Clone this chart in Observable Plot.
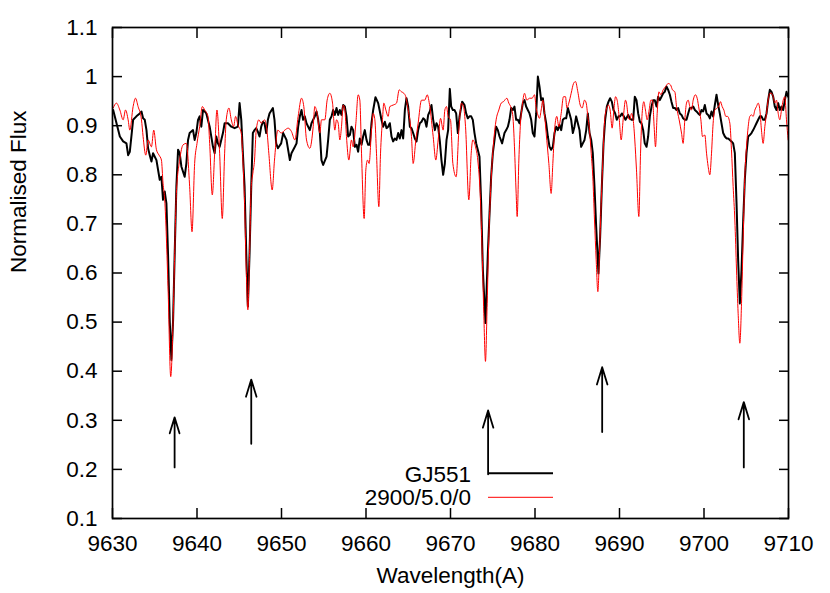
<!DOCTYPE html>
<html>
<head>
<meta charset="utf-8">
<script src="https://cdn.jsdelivr.net/npm/d3@7"></script>
<script src="https://cdn.jsdelivr.net/npm/@observablehq/plot@0.6"></script>
<style>
  html, body { margin: 0; padding: 0; background: #fff; }
  #chart { width: 830px; height: 593px; }
</style>
</head>
<body>
<div id="chart"></div>
<script>
// ---- data ----
const seriesNames = ["GJ551", "2900/5.0/0"];
const seriesColors = ["#000000", "#ff0000"];

const waveGJ551 = [9630.08,9630.87,9631.26,9631.65,9631.85,9632.05,9632.44,9632.83,9633.23,9633.43,9633.62,9633.82,9634.02,9634.21,9634.41,9634.61,9634.80,9635.20,9635.59,9635.79,9635.98,9636.18,9636.38,9636.57,9636.77,9636.97,9637.17,9637.36,9637.56,9637.76,9637.95,9638.15,9638.54,9638.74,9638.94,9639.13,9639.53,9639.72,9639.92,9640.12,9640.31,9640.51,9640.71,9640.91,9641.10,9641.50,9641.89,9642.09,9642.28,9642.48,9642.68,9643.07,9643.27,9643.66,9644.06,9644.45,9644.84,9645.04,9645.24,9645.43,9645.63,9645.83,9646.02,9646.22,9646.42,9646.61,9646.81,9647.01,9647.20,9647.40,9647.60,9647.80,9647.99,9648.19,9648.39,9648.58,9648.98,9649.17,9649.37,9649.57,9649.96,9650.20,9650.59,9650.99,9651.18,9651.58,9651.78,9651.97,9652.17,9652.37,9652.56,9652.76,9652.96,9653.35,9653.55,9653.94,9654.14,9654.34,9654.54,9654.73,9654.93,9655.33,9655.52,9655.72,9655.92,9656.11,9656.31,9656.51,9656.71,9656.90,9657.10,9657.30,9657.50,9657.69,9657.89,9658.09,9658.28,9658.48,9658.68,9658.88,9659.07,9659.27,9659.47,9659.66,9659.86,9660.06,9660.26,9660.45,9660.65,9660.85,9661.12,9661.44,9661.64,9661.83,9662.03,9662.23,9662.43,9662.62,9662.82,9663.02,9663.21,9663.41,9663.61,9663.81,9664.00,9664.20,9664.40,9664.60,9664.79,9664.99,9665.19,9665.38,9665.58,9665.78,9665.98,9666.17,9666.37,9666.57,9666.77,9666.96,9667.16,9667.36,9667.55,9667.75,9667.95,9668.15,9668.34,9668.54,9668.74,9668.93,9669.13,9669.33,9669.53,9669.72,9669.92,9670.08,9670.28,9670.47,9670.67,9670.87,9671.07,9671.38,9671.66,9671.85,9672.05,9672.25,9672.45,9672.64,9672.84,9673.04,9673.23,9673.43,9673.63,9673.83,9674.14,9674.42,9674.62,9674.81,9675.01,9675.21,9675.40,9675.60,9675.80,9676.11,9676.39,9676.59,9676.79,9676.98,9677.18,9677.38,9677.57,9677.77,9677.97,9678.17,9678.36,9678.56,9678.76,9678.95,9679.15,9679.35,9679.55,9679.74,9679.94,9680.14,9680.34,9680.53,9680.73,9680.93,9681.12,9681.32,9681.52,9681.72,9681.91,9682.11,9682.31,9682.51,9682.70,9682.90,9683.10,9683.29,9683.49,9683.69,9683.89,9684.08,9684.28,9684.48,9684.67,9684.87,9685.07,9685.27,9685.46,9685.66,9685.86,9686.06,9686.25,9686.45,9686.65,9686.84,9687.04,9687.24,9687.51,9687.71,9687.91,9688.11,9688.30,9688.50,9688.70,9688.89,9689.09,9689.29,9689.49,9689.68,9689.88,9690.08,9690.28,9690.51,9690.71,9691.03,9691.22,9691.42,9691.62,9691.81,9692.01,9692.21,9692.41,9692.60,9692.80,9692.99,9693.20,9693.39,9693.59,9693.79,9693.98,9694.18,9694.38,9694.58,9694.77,9694.97,9695.17,9695.36,9695.56,9695.76,9695.96,9696.15,9696.35,9696.55,9696.75,9696.94,9697.14,9697.34,9697.53,9697.73,9697.93,9698.13,9698.32,9698.52,9698.72,9698.92,9699.11,9699.31,9699.51,9699.70,9699.90,9700.10,9700.30,9700.49,9700.69,9700.89,9701.08,9701.28,9701.48,9701.68,9701.87,9702.07,9702.27,9702.47,9702.66,9702.86,9703.06,9703.25,9703.45,9703.65,9703.85,9704.04,9704.24,9704.44,9704.64,9704.83,9705.03,9705.23,9705.42,9705.62,9705.82,9706.02,9706.21,9706.41,9706.61,9706.80,9707.00,9707.20,9707.40,9707.59,9707.79,9707.99,9708.19,9708.38,9708.58,9708.78,9708.97,9709.17,9709.37,9709.57,9709.76,9709.96];
const fluxGJ551 = [0.932,0.878,0.868,0.864,0.840,0.847,0.912,0.919,0.925,0.929,0.915,0.912,0.891,0.854,0.840,0.827,0.844,0.830,0.790,0.796,0.749,0.766,0.742,0.640,0.504,0.423,0.504,0.640,0.776,0.851,0.844,0.817,0.796,0.823,0.871,0.885,0.891,0.871,0.885,0.912,0.919,0.898,0.932,0.929,0.925,0.898,0.857,0.844,0.878,0.864,0.857,0.885,0.905,0.905,0.898,0.895,0.898,0.946,0.912,0.844,0.776,0.640,0.532,0.640,0.776,0.885,0.891,0.895,0.888,0.878,0.898,0.908,0.905,0.885,0.912,0.925,0.936,0.912,0.864,0.854,0.864,0.885,0.871,0.830,0.844,0.857,0.864,0.898,0.919,0.932,0.912,0.919,0.905,0.891,0.905,0.919,0.929,0.912,0.885,0.830,0.820,0.837,0.871,0.912,0.919,0.932,0.922,0.936,0.922,0.932,0.922,0.942,0.939,0.919,0.878,0.881,0.898,0.891,0.857,0.861,0.847,0.874,0.861,0.878,0.891,0.871,0.861,0.861,0.905,0.932,0.958,0.946,0.929,0.912,0.898,0.908,0.895,0.898,0.905,0.878,0.868,0.874,0.871,0.885,0.874,0.891,0.874,0.932,0.956,0.939,0.898,0.895,0.885,0.874,0.868,0.891,0.905,0.908,0.915,0.912,0.898,0.922,0.929,0.942,0.912,0.891,0.905,0.898,0.868,0.830,0.800,0.823,0.871,0.891,0.975,0.939,0.932,0.932,0.925,0.885,0.919,0.949,0.942,0.925,0.915,0.919,0.919,0.912,0.885,0.864,0.851,0.837,0.742,0.606,0.498,0.640,0.722,0.796,0.844,0.871,0.898,0.891,0.878,0.864,0.885,0.891,0.898,0.912,0.936,0.932,0.939,0.912,0.912,0.905,0.925,0.946,0.952,0.939,0.932,0.925,0.912,0.885,0.878,0.925,1.000,0.980,0.952,0.956,0.925,0.905,0.878,0.857,0.851,0.857,0.885,0.898,0.891,0.902,0.891,0.912,0.915,0.915,0.936,0.925,0.912,0.885,0.898,0.919,0.905,0.891,0.857,0.864,0.871,0.891,0.925,0.885,0.871,0.844,0.776,0.694,0.599,0.674,0.776,0.864,0.912,0.939,0.949,0.956,0.949,0.932,0.925,0.912,0.919,0.919,0.925,0.919,0.912,0.922,0.915,0.912,0.912,0.959,0.952,0.925,0.908,0.905,0.891,0.864,0.857,0.878,0.919,0.939,0.952,0.952,0.939,0.959,0.952,0.959,0.966,0.969,0.980,0.973,0.963,0.949,0.936,0.936,0.932,0.936,0.925,0.922,0.915,0.912,0.912,0.925,0.936,0.936,0.939,0.932,0.929,0.925,0.922,0.932,0.929,0.942,0.925,0.922,0.915,0.929,0.919,0.942,0.963,0.942,0.925,0.905,0.885,0.878,0.874,0.874,0.871,0.868,0.864,0.844,0.742,0.627,0.538,0.606,0.708,0.790,0.844,0.878,0.881,0.885,0.891,0.898,0.905,0.912,0.919,0.919,0.912,0.912,0.925,0.952,0.973,0.969,0.959,0.939,0.932,0.946,0.932,0.939,0.932,0.952,0.969,0.959];

const waveModel = [9630.08,9630.47,9630.87,9631.26,9631.54,9631.85,9632.05,9632.44,9632.72,9633.03,9633.43,9633.62,9633.94,9634.21,9634.61,9634.88,9635.20,9635.51,9635.79,9635.98,9636.18,9636.57,9636.89,9637.17,9637.36,9637.56,9637.95,9638.35,9638.74,9639.13,9639.41,9639.72,9640.00,9640.31,9640.63,9640.91,9641.30,9641.50,9641.81,9642.09,9642.36,9642.68,9642.99,9643.27,9643.46,9643.78,9644.06,9644.33,9644.57,9644.84,9645.24,9645.43,9645.63,9645.83,9646.02,9646.22,9646.42,9646.61,9646.81,9647.01,9647.32,9647.60,9647.99,9648.27,9648.50,9648.90,9649.17,9649.57,9649.96,9650.39,9650.79,9651.18,9651.58,9651.97,9652.37,9652.64,9652.96,9653.35,9653.75,9653.94,9654.22,9654.54,9654.73,9655.13,9655.40,9655.72,9656.04,9656.31,9656.51,9656.71,9656.90,9657.10,9657.30,9657.50,9657.69,9657.97,9658.28,9658.48,9658.80,9659.07,9659.27,9659.47,9659.78,9659.98,9660.18,9660.37,9660.65,9660.85,9661.05,9661.24,9661.52,9661.72,9661.95,9662.11,9662.35,9662.62,9662.82,9663.21,9663.61,9663.93,9664.20,9664.48,9664.71,9664.99,9665.19,9665.38,9665.58,9665.90,9666.17,9666.57,9666.96,9667.24,9667.55,9667.95,9668.26,9668.54,9668.82,9669.13,9669.33,9669.53,9669.72,9670.00,9670.28,9670.67,9670.99,9671.30,9671.54,9671.78,9672.17,9672.45,9672.64,9672.96,9673.23,9673.51,9673.75,9673.94,9674.14,9674.34,9674.54,9674.81,9675.09,9675.40,9675.72,9676.00,9676.27,9676.67,9676.90,9677.18,9677.38,9677.57,9677.77,9677.89,9678.09,9678.28,9678.48,9678.76,9679.03,9679.35,9679.66,9679.94,9680.14,9680.34,9680.53,9680.73,9680.93,9681.12,9681.32,9681.64,9681.91,9682.11,9682.35,9682.58,9682.82,9683.10,9683.37,9683.61,9683.77,9684.00,9684.28,9684.56,9684.79,9685.07,9685.35,9685.58,9685.86,9686.06,9686.25,9686.45,9686.65,9686.84,9687.04,9687.24,9687.44,9687.63,9687.83,9688.03,9688.22,9688.42,9688.70,9688.89,9689.13,9689.33,9689.53,9689.72,9689.92,9690.20,9690.43,9690.71,9690.83,9691.03,9691.22,9691.42,9691.62,9691.81,9692.01,9692.29,9692.49,9692.68,9692.88,9693.07,9693.27,9693.51,9693.71,9693.91,9694.10,9694.26,9694.46,9694.66,9694.89,9695.17,9695.48,9695.76,9696.04,9696.27,9696.55,9696.75,9697.06,9697.34,9697.53,9697.73,9697.93,9698.13,9698.32,9698.52,9698.72,9698.99,9699.19,9699.43,9699.63,9699.82,9700.10,9700.30,9700.49,9700.69,9700.89,9701.08,9701.28,9701.56,9701.80,9701.95,9702.15,9702.35,9702.58,9702.78,9703.06,9703.25,9703.45,9703.65,9703.85,9704.04,9704.24,9704.44,9704.64,9704.83,9705.03,9705.23,9705.42,9705.62,9705.82,9706.02,9706.21,9706.41,9706.61,9706.80,9707.00,9707.20,9707.40,9707.59,9707.79,9707.99,9708.19,9708.38,9708.58,9708.78,9708.97,9709.17,9709.37,9709.57,9709.76,9709.96];
const fluxModel = [0.936,0.946,0.932,0.912,0.932,0.912,0.891,0.939,0.956,0.939,0.912,0.878,0.840,0.871,0.857,0.891,0.851,0.840,0.830,0.783,0.749,0.572,0.389,0.504,0.640,0.762,0.830,0.861,0.864,0.776,0.684,0.823,0.864,0.898,0.939,0.932,0.919,0.864,0.759,0.844,0.932,0.844,0.711,0.844,0.912,0.936,0.912,0.898,0.919,0.902,0.885,0.830,0.742,0.606,0.525,0.640,0.776,0.803,0.830,0.891,0.912,0.905,0.912,0.891,0.844,0.769,0.830,0.891,0.885,0.891,0.895,0.888,0.871,0.919,0.956,0.939,0.871,0.854,0.898,0.939,0.925,0.885,0.912,0.912,0.952,0.966,0.946,0.891,0.912,0.905,0.871,0.898,0.942,0.932,0.878,0.830,0.871,0.857,0.905,0.963,0.952,0.844,0.711,0.810,0.830,0.823,0.891,0.925,0.912,0.844,0.735,0.844,0.912,0.946,0.932,0.919,0.939,0.942,0.946,0.973,0.969,0.966,0.959,0.932,0.912,0.878,0.823,0.871,0.905,0.952,0.952,0.963,0.939,0.878,0.830,0.871,0.915,0.891,0.932,0.939,0.919,0.912,0.823,0.796,0.891,0.946,0.939,0.898,0.749,0.844,0.871,0.857,0.830,0.762,0.640,0.518,0.420,0.538,0.674,0.790,0.864,0.912,0.932,0.946,0.949,0.956,0.946,0.936,0.919,0.857,0.762,0.715,0.830,0.905,0.939,0.966,0.952,0.956,0.956,0.963,0.936,0.922,0.915,0.932,0.952,0.925,0.885,0.823,0.762,0.823,0.898,0.919,0.898,0.925,0.959,0.959,0.936,0.946,0.966,0.986,0.990,0.969,0.942,0.936,0.952,0.946,0.919,0.891,0.844,0.796,0.708,0.627,0.562,0.640,0.742,0.830,0.905,0.932,0.942,0.932,0.895,0.932,0.959,0.952,0.925,0.871,0.912,0.952,0.946,0.919,0.912,0.925,0.912,0.871,0.810,0.715,0.844,0.925,0.949,0.932,0.912,0.932,0.952,0.952,0.898,0.857,0.925,0.969,0.963,0.973,0.980,0.986,0.983,0.973,0.969,0.939,0.912,0.885,0.864,0.912,0.946,0.952,0.939,0.932,0.952,0.963,0.956,0.932,0.912,0.878,0.881,0.844,0.817,0.800,0.844,0.905,0.932,0.936,0.942,0.949,0.939,0.932,0.919,0.919,0.905,0.851,0.776,0.708,0.606,0.518,0.457,0.538,0.674,0.796,0.857,0.898,0.919,0.922,0.919,0.932,0.939,0.946,0.932,0.891,0.864,0.898,0.925,0.952,0.966,0.966,0.959,0.946,0.952,0.925,0.912,0.932,0.952,0.959,0.912,0.871];

// marked absorption lines (arrows): wavelength, arrow base and tip flux
const arrowWave = [9637.35, 9646.42, 9674.45, 9687.95, 9704.71];
const arrowFrom = [0.204, 0.252, 0.190, 0.276, 0.204];
const arrowTo   = [0.306, 0.383, 0.320, 0.408, 0.337];

const xTicks = [9630, 9640, 9650, 9660, 9670, 9680, 9690, 9700, 9710];
const yTicks = [0.1, 0.2, 0.3, 0.4, 0.5, 0.6, 0.7, 0.8, 0.9, 1.0, 1.1];
const xLabel = "Wavelength(A)";
const yLabel = "Normalised Flux";

// ---- build ----
const FONT = "'Liberation Sans', Arial, Helvetica, sans-serif";
const FS = 22.5;
const W = 830, H = 593;
const mL = 112, mR = 42, mT = 27, mB = 75;

const idxB = d3.range(waveGJ551.length);
const idxM = d3.range(waveModel.length);
const idxA = d3.range(arrowWave.length);
const fmtY = d => String(+(+d).toFixed(1));
const blank = () => "";

function legendMark(index, scales, values, dims) {
  const g = d3.create("svg:g");
  const w = dims.width, h = dims.height;
  const cx = dims.marginLeft + (w - dims.marginLeft - dims.marginRight) / 2;
  const by = h - dims.marginBottom;
  const rows = [
    {name: seriesNames[0], color: seriesColors[0], sw: 2, ly: by - 44.7, ty: by - 36},
    {name: seriesNames[1], color: seriesColors[1], sw: 1, ly: by - 20.7, ty: by - 13}
  ];
  for (const r of rows) {
    g.append("line")
      .attr("x1", cx + 38).attr("x2", cx + 103)
      .attr("y1", r.ly).attr("y2", r.ly)
      .attr("stroke", r.color).attr("stroke-width", r.sw);
    g.append("text")
      .attr("x", cx + 21).attr("y", r.ty)
      .attr("text-anchor", "end")
      .attr("font-family", FONT).attr("font-size", FS)
      .attr("fill", "black")
      .text(r.name);
  }
  return g.node();
}

const chart = Plot.plot({
  width: W, height: H,
  marginLeft: mL, marginRight: mR, marginTop: mT, marginBottom: mB,
  style: {fontFamily: FONT, fontSize: FS + "px", background: "white", color: "black"},
  x: {domain: [9630, 9710]},
  y: {domain: [0.1, 1.1]},
  marks: [
    Plot.line(idxB, {x: i => waveGJ551[i], y: i => fluxGJ551[i], stroke: seriesColors[0], strokeWidth: 2, strokeLinejoin: "round", clip: true}),
    Plot.line(idxM, {x: i => waveModel[i], y: i => fluxModel[i], stroke: seriesColors[1], strokeWidth: 1, curve: "monotone-x", clip: true}),
    Plot.arrow(idxA, {x: i => arrowWave[i], y1: i => arrowFrom[i], y2: i => arrowTo[i], stroke: "black", strokeWidth: 1.8, headLength: 15, headAngle: 34}),
    // labels
    Plot.axisX({anchor: "bottom", ticks: xTicks, tickSize: 0, tickPadding: 17, tickFormat: d => String(d), fontSize: FS, label: null}),
    Plot.axisY({anchor: "left", ticks: yTicks, tickSize: 0, tickPadding: 15, tickFormat: fmtY, fontSize: FS, label: null}),
    // inward ticks on all four sides
    Plot.axisX({anchor: "bottom", ticks: xTicks, tickSize: -10, tickFormat: blank, strokeWidth: 1.5, label: null}),
    Plot.axisX({anchor: "top", ticks: xTicks, tickSize: -10, tickFormat: blank, strokeWidth: 1.5, label: null}),
    Plot.axisY({anchor: "left", ticks: yTicks, tickSize: -10, tickFormat: blank, strokeWidth: 1.5, label: null}),
    Plot.axisY({anchor: "right", ticks: yTicks, tickSize: -10, tickFormat: blank, strokeWidth: 1.5, label: null}),
    Plot.frame({stroke: "black", strokeWidth: 1.7}),
    Plot.text([xLabel], {frameAnchor: "bottom", dy: 49, lineAnchor: "top", fontSize: FS, fill: "black"}),
    Plot.text([yLabel], {frameAnchor: "left", dx: -94, rotate: -90, fontSize: FS, fill: "black"}),
    legendMark
  ]
});

document.getElementById("chart").appendChild(chart);
</script>
</body>
</html>
